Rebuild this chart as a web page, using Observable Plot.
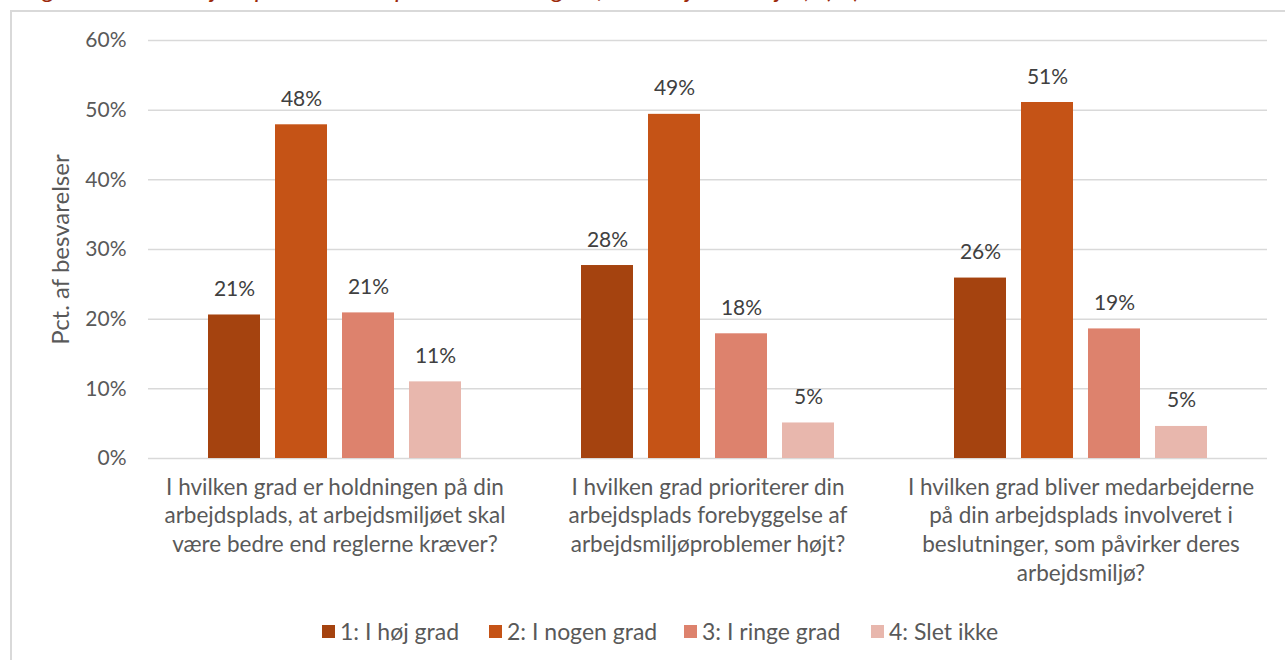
<!DOCTYPE html>
<html>
<head>
<meta charset="utf-8">
<script src="https://cdn.jsdelivr.net/npm/d3@7"></script>
<script src="https://cdn.jsdelivr.net/npm/@observablehq/plot@0.6"></script>
<style>
  body { margin: 0; background: #ffffff; font-family: Lato, "Open Sans", sans-serif; }
  #wrap { position: relative; width: 1285px; height: 660px; overflow: hidden; background: #fff; }
  #title { position: absolute; left: 0; top: 0; width: 1285px; height: 8px; overflow: hidden; }
  #title span { position: absolute; left: 14px; top: -27px; font-style: italic; font-size: 26px; line-height: 1.2; letter-spacing: 4.5px; color: #9C2A0B; white-space: nowrap; }
  #frame { position: absolute; left: 10px; top: 10px; width: 1400px; height: 800px; border-top: 2px solid #D9D9D9; border-left: 2px solid #D9D9D9; box-sizing: border-box; }
  #chart { position: absolute; left: 0; top: 0; }
  #legend { position: absolute; left: 0; top: 617px; width: 1285px; height: 26px; font-size: 23px; color: #595959; white-space: nowrap; }
  #legend .item { position: absolute; top: 0; display: flex; align-items: center; gap: 5px; }
  #legend .sw { width: 13px; height: 13px; display: inline-block; }
</style>
</head>
<body>
<div id="wrap">
  <div id="title"><span>Figur 5: Arbejdspladsens prioritering af arbejdsmiljø, (n)</span></div>
  <div id="frame"></div>
  <div id="chart"></div>
  <div id="legend"></div>
</div>
<script>
const categories = [
  "I hvilken grad er holdningen på din\narbejdsplads, at arbejdsmiljøet skal\nvære bedre end reglerne kræver?",
  "I hvilken grad prioriterer din\narbejdsplads forebyggelse af\narbejdsmiljøproblemer højt?",
  "I hvilken grad bliver medarbejderne\npå din arbejdsplads involveret i\nbeslutninger, som påvirker deres\narbejdsmiljø?"
];
const series = ["1: I høj grad", "2: I nogen grad", "3: I ringe grad", "4: Slet ikke"];
const hoejGrad  = [0.206, 0.277, 0.259];
const nogenGrad = [0.479, 0.494, 0.511];
const ringeGrad = [0.209, 0.179, 0.186];
const sletIkke  = [0.110, 0.051, 0.046];
const colors = ["#A5430F", "#C55316", "#DD826D", "#E8B7AD"];
const yTicks = [0, 0.1, 0.2, 0.3, 0.4, 0.5, 0.6];
const yLabel = "Pct. af besvarelser";
const legendLeft = [322, 489, 684, 871];

const seriesValues = [hoejGrad, nogenGrad, ringeGrad, sletIkke];
const data = [];
categories.forEach((c, i) => {
  series.forEach((s, j) => data.push({cat: c, series: s, value: seriesValues[j][i]}));
});
const pct = d => Math.round(d * 100) + "%";

const chart = Plot.plot({
  width: 1285,
  height: 600,
  marginLeft: 148,
  marginRight: 18,
  marginTop: 40,
  marginBottom: 142,
  style: {fontFamily: "Lato, 'Open Sans', sans-serif", fontSize: "21px", color: "#595959", background: "transparent"},
  fx: {domain: categories, padding: 0, axis: null},
  x: {domain: series, paddingInner: 0.217, paddingOuter: 0.86, axis: null},
  y: {domain: [0, 0.6], ticks: yTicks, tickFormat: pct, tickSize: 0, tickPadding: 22,
      label: yLabel, labelAnchor: "center", labelOffset: 97, labelArrow: "none"},
  color: {domain: series, range: colors},
  marks: [
    Plot.gridY(yTicks, {stroke: "#D9D9D9", strokeOpacity: 1, strokeWidth: 1.5}),
    Plot.barY(data, {fx: "cat", x: "series", y: "value", fill: "series"}),
    Plot.text(data, {fx: "cat", x: "series", y: "value", text: d => pct(d.value),
      dy: -19, lineAnchor: "bottom", fill: "#404040", fontSize: 21}),
    Plot.text(categories, {fx: d => d, text: d => d, frameAnchor: "bottom",
      lineAnchor: "top", dy: 16, lineHeight: 1.27, fill: "#595959", fontSize: 22.5})
  ]
});
document.getElementById("chart").appendChild(chart);
// enlarge y-axis label to match the reference
chart.querySelectorAll("g[aria-label='y-axis label'] text").forEach(t => t.setAttribute("font-size", "24"));

const legend = document.getElementById("legend");
series.forEach((s, i) => {
  const item = document.createElement("div");
  item.className = "item";
  item.style.left = legendLeft[i] + "px";
  const sw = document.createElement("span");
  sw.className = "sw";
  sw.style.background = colors[i];
  const t = document.createElement("span");
  t.textContent = s;
  item.appendChild(sw);
  item.appendChild(t);
  legend.appendChild(item);
});
</script>
</body>
</html>
